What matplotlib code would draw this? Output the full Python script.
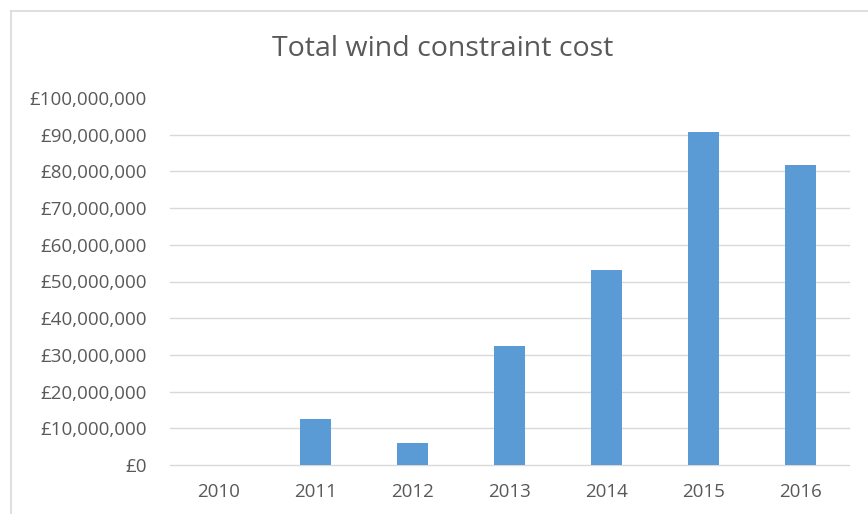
import matplotlib
matplotlib.use("Agg")
import matplotlib.pyplot as plt
from matplotlib.lines import Line2D
from matplotlib.ticker import FuncFormatter

years = ["2010", "2011", "2012", "2013", "2014", "2015", "2016"]
costs = [0, 12_500_000, 6_000_000, 32_400_000, 53_100_000, 90_700_000, 81_800_000]
yticks = list(range(0, 100_000_001, 10_000_000))

W, H = 868, 514
fig = plt.figure(figsize=(W / 100, H / 100), dpi=100)
fig.patch.set_facecolor("white")

ax = fig.add_axes([170 / W, 1 - 465 / H, (849 - 170) / W, (465 - 98) / H])
ax.bar(range(len(years)), costs, width=0.31, color="#5B9BD5", zorder=3)
ax.set_xlim(-0.5, len(years) - 0.5)
ax.set_ylim(0, 100_000_000)
ax.set_yticks(yticks)
ax.set_xticks(range(len(years)))
ax.set_xticklabels(years)
ax.yaxis.set_major_formatter(FuncFormatter(lambda v, p: "£0" if v == 0 else "£{:,.0f}".format(v)))

for s in ax.spines.values():
    s.set_visible(False)
ax.grid(axis="y", color="#D9D9D9", linewidth=1, zorder=0)
gl = ax.get_ygridlines()
for g in gl:
    g.set_clip_on(False)
gl[-1].set_visible(False)
ax.tick_params(axis="both", length=0, colors="#595959", labelsize=13.5)
ax.tick_params(axis="y", pad=16.5)
ax.tick_params(axis="x", pad=13)
for lab in ax.get_xticklabels() + ax.get_yticklabels():
    lab.set_fontfamily("Open Sans")
    lab.set_color("#595959")

fig.text(443 / W, 1 - 49 / H, "Total wind constraint cost", ha="center", va="center",
         fontsize=20.5, color="#595959", fontfamily="Open Sans")

# chart border
fig.add_artist(Line2D([10.5 / W, 10.5 / W], [0, 1 - 11 / H], color="#D9D9D9", linewidth=1.2))
fig.add_artist(Line2D([10.5 / W, 1], [1 - 11 / H, 1 - 11 / H], color="#D9D9D9", linewidth=1.2))

fig.savefig("out.png", dpi=100)
